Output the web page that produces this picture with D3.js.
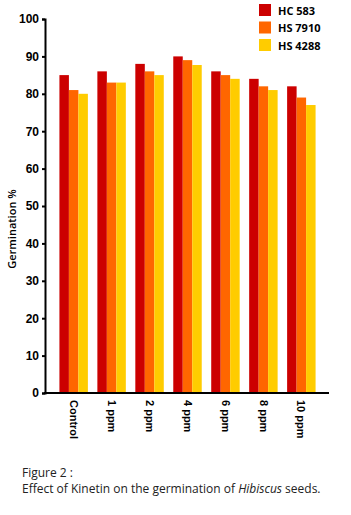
<!DOCTYPE html>
<html lang="en">
<head>
    <meta charset="UTF-8">
    <script src="https://cdnjs.cloudflare.com/ajax/libs/d3/7.8.5/d3.min.js"></script>
    <style>
        body { margin: 0; background: #fff; }
        svg { font-family: "Open Sans", sans-serif; }
    </style>
</head>
<body>
<svg width="351" height="515"></svg>
<script>
    const categories = ['Control', '1 ppm', '2 ppm', '4 ppm', '6 ppm', '8 ppm', '10 ppm'];
    const seriesNames = ['HC 583', 'HS 7910', 'HS 4288'];
    const hc583 = [85, 86, 88, 90, 86, 84, 82];
    const hs7910 = [81, 83, 86, 89, 85, 82, 79];
    const hs4288 = [80, 83, 85, 87.7, 84, 81, 77];
    const yTicks = [0, 10, 20, 30, 40, 50, 60, 70, 80, 90, 100];

    const series = [hc583, hs7910, hs4288];
    const colors = ['#cc0000', '#ff6600', '#ffcc00'];

    const svg = d3.select('svg');

    const x = d3.scaleBand().domain(categories).range([45, 330])
        .paddingInner(0.25).paddingOuter(0.38);
    const xSub = d3.scaleBand().domain(seriesNames).range([0, x.bandwidth()]);
    const y = d3.scaleLinear().domain([0, 100]).range([393, 19]);

    // bars
    categories.forEach((c, i) => {
        svg.append('g')
            .attr('transform', `translate(${x(c)},0)`)
            .selectAll('rect')
            .data(seriesNames).enter()
            .append('rect')
            .attr('x', s => xSub(s))
            .attr('width', xSub.bandwidth())
            .attr('y', (s, j) => y(series[j][i]))
            .attr('height', (s, j) => y(0) - y(series[j][i]))
            .style('fill', (s, j) => colors[j]);
    });

    // y axis
    const yAxis = d3.axisLeft(y).tickValues(yTicks).tickSize(3).tickPadding(3);
    const yG = svg.append('g').attr('transform', 'translate(45,0)').call(yAxis);
    yG.select('.domain').attr('stroke-width', 2);
    yG.selectAll('.tick line').attr('stroke-width', 2);
    yG.selectAll('.tick text')
        .style('font-size', '12px').style('font-weight', 'bold').attr('fill', '#000');

    // x axis
    const xAxis = d3.axisBottom(x).tickSize(0).tickPadding(6);
    const xG = svg.append('g').attr('transform', 'translate(0,393)').call(xAxis);
    xG.select('.domain').attr('stroke-width', 2).attr('d', `M44,0H329`);
    xG.selectAll('.tick text')
        .attr('transform', 'rotate(90)')
        .attr('text-anchor', 'start')
        .attr('x', 7).attr('y', 0).attr('dy', '0.35em')
        .style('font-size', '11px').style('font-weight', 'bold').attr('fill', '#000');

    // y label
    svg.append('text')
        .attr('transform', 'translate(16,229) rotate(-90)')
        .attr('text-anchor', 'middle')
        .style('font-size', '11px').style('font-weight', '600')
        .text('Germination %');

    // legend
    const legend = svg.append('g').attr('transform', 'translate(259,4)');
    seriesNames.forEach((s, i) => {
        legend.append('rect').attr('x', 0).attr('y', i * 17.5)
            .attr('width', 12).attr('height', 12).style('fill', colors[i]);
        legend.append('text').attr('x', 19).attr('y', i * 17.5 + 10.5)
            .style('font-size', '11px').style('font-weight', 'bold')
            .text(s);
    });

    // caption
    svg.append('text').attr('x', 22).attr('y', 477)
        .style('font-size', '12px').attr('fill', '#222').text('Figure 2 :');
    const cap = svg.append('text').attr('x', 22).attr('y', 493)
        .style('font-size', '12px').attr('fill', '#222');
    cap.append('tspan').text('Effect of Kinetin on the germination of ');
    cap.append('tspan').style('font-style', 'italic').text('Hibiscus');
    cap.append('tspan').text(' seeds.');
</script>
</body>
</html>
